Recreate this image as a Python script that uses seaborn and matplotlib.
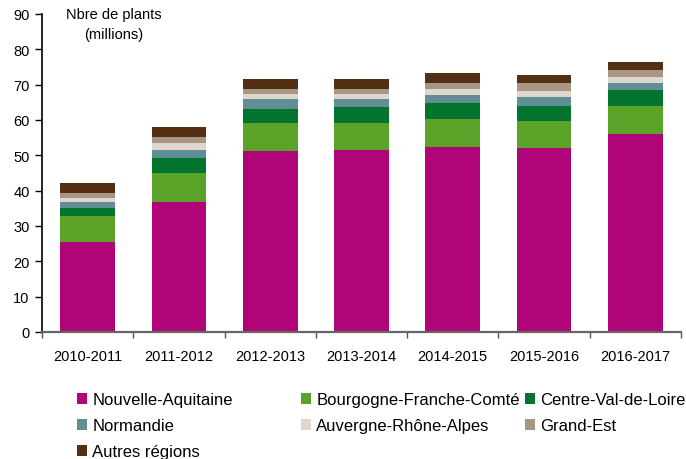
import matplotlib
matplotlib.use('Agg')
import matplotlib.pyplot as plt
from matplotlib.patches import Patch
from matplotlib.ticker import FixedLocator
import seaborn as sns
import pandas as pd
import numpy as np

campagnes = ['2010-2011', '2011-2012', '2012-2013', '2013-2014',
             '2014-2015', '2015-2016', '2016-2017']
regions = ['Nouvelle-Aquitaine', 'Bourgogne-Franche-Comté', 'Centre-Val-de-Loire',
           'Normandie', 'Auvergne-Rhône-Alpes', 'Grand-Est', 'Autres régions']

# millions de plants par région
nouvelle_aquitaine = [25.4, 36.7, 51.2, 51.4, 52.3, 52.0, 56.0]
bourgogne_fc = [7.4, 8.2, 7.9, 7.7, 7.9, 7.6, 7.9]
centre_vdl = [2.3, 4.3, 3.9, 4.5, 4.5, 4.3, 4.5]
normandie = [1.6, 2.2, 2.9, 2.3, 2.3, 2.5, 2.0]
auvergne_ra = [1.2, 2.0, 1.4, 1.4, 1.7, 1.9, 1.7]
grand_est = [1.4, 1.7, 1.4, 1.4, 1.7, 2.1, 2.0]
autres = [2.8, 2.85, 2.8, 2.8, 2.8, 2.2, 2.2]

couleurs = ['#B10479', '#5BA229', '#03742D', '#5F8F93', '#DFD6D0', '#A89583', '#532F14']

series = [nouvelle_aquitaine, bourgogne_fc, centre_vdl, normandie,
          auvergne_ra, grand_est, autres]
cumul = np.cumsum(np.array(series), axis=0)

plt.rcParams['font.family'] = ['Liberation Sans', 'DejaVu Sans']
fig = plt.figure(figsize=(6.86, 4.6), dpi=100)
ax = fig.add_axes([42 / 686, 1 - 333 / 460, (681 - 42) / 686, (333 - 15) / 460])

# barres empilées : on dessine les cumuls du haut vers le bas
for i in range(len(regions) - 1, -1, -1):
    df = pd.DataFrame({'campagne': campagnes, 'valeur': cumul[i]})
    sns.barplot(data=df, x='campagne', y='valeur', order=campagnes,
                color=couleurs[i], saturation=1, width=0.6, ax=ax,
                linewidth=0, errorbar=None)

ax.set_xlim(-0.5, 6.5)
ax.set_ylim(0, 90)
ax.set_yticks(range(0, 91, 10))
ax.set_xlabel('')
ax.set_ylabel('')
ax.tick_params(axis='y', labelsize=10.5, length=5, width=1, pad=4, direction='out')
ax.tick_params(axis='x', which='major', labelsize=10.5, length=0, pad=12)
ax.xaxis.set_minor_locator(FixedLocator(np.arange(-0.5, 7, 1)))
ax.tick_params(axis='x', which='minor', length=4, width=1, color='#555555', direction='out')
for s in ['top', 'right']:
    ax.spines[s].set_visible(False)
ax.spines['left'].set_linewidth(1.2)
ax.spines['left'].set_color('black')
ax.spines['bottom'].set_linewidth(1.6)
ax.spines['bottom'].set_color('#666666')

fig.text(114 / 686, 1 - 8 / 460, 'Nbre de plants\n(millions)', ha='center', va='top',
         fontsize=10.5, linespacing=1.55)

handles = [Patch(facecolor=c, edgecolor='none') for c in couleurs]
colonnes = [([0, 3, 6], 77), ([1, 4], 301), ([2, 5], 525)]
for idx, x0 in colonnes:
    leg = fig.legend([handles[k] for k in idx], [regions[k] for k in idx],
                     loc='upper left', bbox_to_anchor=(x0 / 686, 1 - 393 / 460),
                     frameon=False, fontsize=12, handlelength=0.62,
                     handleheight=0.62, handletextpad=0.3, labelspacing=0.66,
                     borderpad=0, borderaxespad=0)

fig.savefig('out.png', dpi=100)
